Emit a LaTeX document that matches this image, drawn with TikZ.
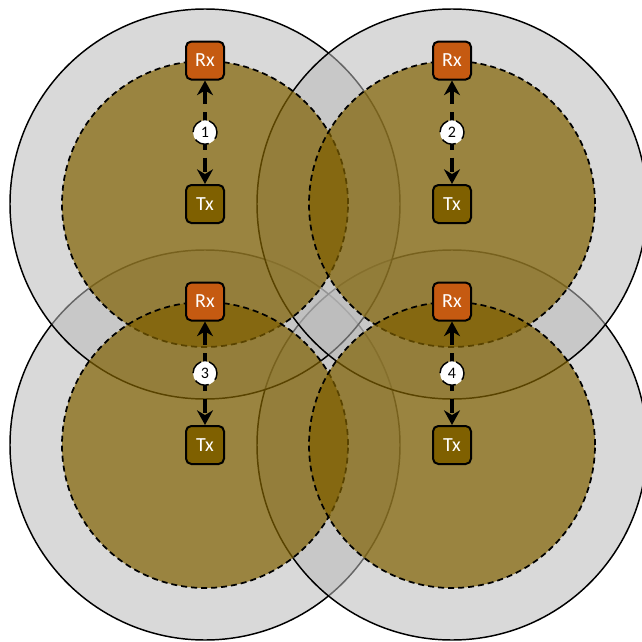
\documentclass[tikz,border=0pt]{standalone}
\usepackage{fontspec}
\setmainfont{Carlito}
\usetikzlibrary{positioning,arrows.meta}
\definecolor{RxOrange}{HTML}{C55A11}
\definecolor{TxBrown}{HTML}{7F6000}
\definecolor{RangeGray}{HTML}{BABABA}

\begin{document}
\begin{tikzpicture}[
  x=0.75pt, y=-0.75pt,
  node distance=77.6pt,
  every node/.style={font=\fontsize{15}{18}\selectfont,align=center},
  rx/.style={draw,line width=1.5pt,rounded corners=4pt,fill=RxOrange,text=white,minimum size=28.5pt,inner sep=0pt},
  tx/.style={rx,fill=TxBrown},
  num/.style={draw,circle,fill=white,line width=1.1pt,minimum size=18pt,inner sep=0pt,font=\fontsize{12}{14}\selectfont},
  outer/.style={draw,line width=1.1pt,fill=RangeGray,fill opacity=0.55},
  inner/.style={draw,line width=1.3pt,dash pattern=on 4.5pt off 3pt,fill=TxBrown,fill opacity=0.7},
  link/.style={{Stealth[length=11pt,width=12pt]}-{Stealth[length=11pt,width=12pt]},line width=2.8pt,dash pattern=on 11pt off 6pt}
]
  \useasboundingbox (0,0) rectangle (642,642);
  \coordinate (c1) at (205,204);
  \coordinate (c2) at (452,204);
  \coordinate (c3) at (205,445);
  \coordinate (c4) at (452,445);
  \begin{scope}
    \clip (0,0) rectangle (642,642);
    % coverage ranges
    \path[outer] (c3) circle (146.25pt);
    \path[outer] (c4) circle (146.25pt);
    \path[outer] (c1) circle (146.25pt);
    \path[outer] (c2) circle (146.25pt);
    % interference ranges
    \path[inner] (c1) circle (107.25pt);
    \path[inner] (c2) circle (107.25pt);
    \path[inner] (c3) circle (107.25pt);
    \path[inner] (c4) circle (107.25pt);
  \end{scope}
  \node[tx] (tx1) at (c1) {Tx};
  \node[rx,above=of tx1] (rx1) {Rx};
  \node[tx] (tx2) at (c2) {Tx};
  \node[rx,above=of tx2] (rx2) {Rx};
  \node[tx] (tx3) at (c3) {Tx};
  \node[rx,above=of tx3] (rx3) {Rx};
  \node[tx] (tx4) at (c4) {Tx};
  \node[rx,above=of tx4] (rx4) {Rx};
  \draw[link] (rx1) -- node[num] (n1) {1} (tx1);
  \draw[link] (rx2) -- node[num] (n2) {2} (tx2);
  \draw[link] (rx3) -- node[num] (n3) {3} (tx3);
  \draw[link] (rx4) -- node[num] (n4) {4} (tx4);
\end{tikzpicture}
\end{document}
